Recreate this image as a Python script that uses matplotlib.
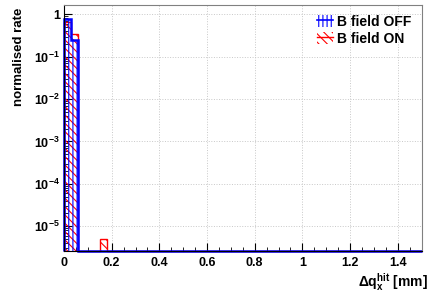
import numpy as np
import matplotlib.pyplot as plt
from matplotlib.patches import Patch
from matplotlib.lines import Line2D
from matplotlib.ticker import FixedLocator, FuncFormatter, LogLocator, MultipleLocator

plt.rcParams['font.family'] = ['Liberation Sans', 'DejaVu Sans']
plt.rcParams['font.weight'] = 'bold'
plt.rcParams['mathtext.fontset'] = 'custom'
plt.rcParams['mathtext.rm'] = 'Liberation Sans:bold'
plt.rcParams['mathtext.bf'] = 'Liberation Sans:bold'
plt.rcParams['mathtext.it'] = 'Liberation Sans:bold'
plt.rcParams['mathtext.default'] = 'bf'
plt.rcParams['hatch.linewidth'] = 0.8

# 50 bins from 0 to 1.5 mm
bin_edges = np.linspace(0, 1.5, 51)
rate_off = [0.77, 0.25] + [0.0] * 48
rate_on = [0.66, 0.35, 0.0, 0.0, 0.0, 5.1e-6] + [0.0] * 44

y_min, y_max = 2.6e-6, 1.66

fig = plt.figure(figsize=(4.31, 2.96), dpi=100)
ax = fig.add_axes([0.1485, 0.152, 0.8295, 0.831])

off = np.array(rate_off)
on = np.array(rate_on)
off_plot = np.where(off > 0, off, y_min)
on_plot = np.where(on > 0, on, y_min)

ax.stairs(on_plot, bin_edges, baseline=y_min, fill=False, hatch='\\\\\\\\',
          edgecolor='red', linewidth=1.0, clip_on=False)
ax.stairs(off_plot, bin_edges, baseline=y_min, fill=False, hatch='||||',
          edgecolor='blue', linewidth=1.8, clip_on=False)

ax.set_yscale('log')
ax.set_xlim(0, 1.5)
ax.set_ylim(y_min, y_max)

ax.xaxis.set_major_locator(MultipleLocator(0.2))
ax.xaxis.set_minor_locator(MultipleLocator(0.05))
ax.xaxis.set_major_formatter(FuncFormatter(lambda v, p: '0' if abs(v) < 1e-9 else ('1' if abs(v - 1) < 1e-9 else f'{v:g}')))
ax.yaxis.set_major_locator(FixedLocator([1e-5, 1e-4, 1e-3, 1e-2, 1e-1, 1]))
ax.yaxis.set_minor_locator(LogLocator(base=10, subs=np.arange(2, 10)))
ax.yaxis.set_major_formatter(FuncFormatter(lambda v, p: '1' if abs(v - 1) < 1e-9 else r'$10^{%d}$' % round(np.log10(v))))

ax.tick_params(axis='both', which='both', direction='in', labelsize=9, top=False, right=False)
ax.tick_params(axis='x', which='major', length=6, pad=4)
ax.tick_params(axis='x', which='minor', length=3)
ax.tick_params(axis='y', which='major', length=6, pad=3)
ax.tick_params(axis='y', which='minor', length=3)
for lab in ax.get_xticklabels() + ax.get_yticklabels():
    lab.set_fontweight('bold')

ax.grid(True, which='major', linestyle=':', color='#c8c8c8', linewidth=0.7)
ax.set_axisbelow(True)
for s in ['top', 'right']:
    ax.spines[s].set_color('#808080')

ax.set_ylabel('normalised rate', fontsize=9.5, fontweight='bold')
ax.yaxis.set_label_coords(-0.125, 0.79)
ax.yaxis.label.set_verticalalignment('center')
ax.set_xlabel(r'$\Delta q_{x}^{hit}$ [mm]', fontsize=10, fontweight='bold')
ax.xaxis.set_label_coords(1.018, -0.125)
ax.xaxis.label.set_horizontalalignment('right')
ax.xaxis.label.set_verticalalignment('center')

handles = [(Patch(facecolor='none', edgecolor='blue', hatch='||||', linewidth=0),
            Line2D([], [], color='blue', linewidth=1.2)),
           (Patch(facecolor='none', edgecolor='red', hatch='\\\\\\\\', linewidth=0),
            Line2D([], [], color='red', linewidth=1.0))]
ax.legend(handles=handles, labels=['B field OFF', 'B field ON'], loc='upper right',
          frameon=False, handlelength=1.2, handleheight=0.9, handletextpad=0.3,
          borderaxespad=0.3, labelspacing=0.2, prop={'weight': 'bold', 'size': 10})

fig.savefig('out.png', dpi=100)
